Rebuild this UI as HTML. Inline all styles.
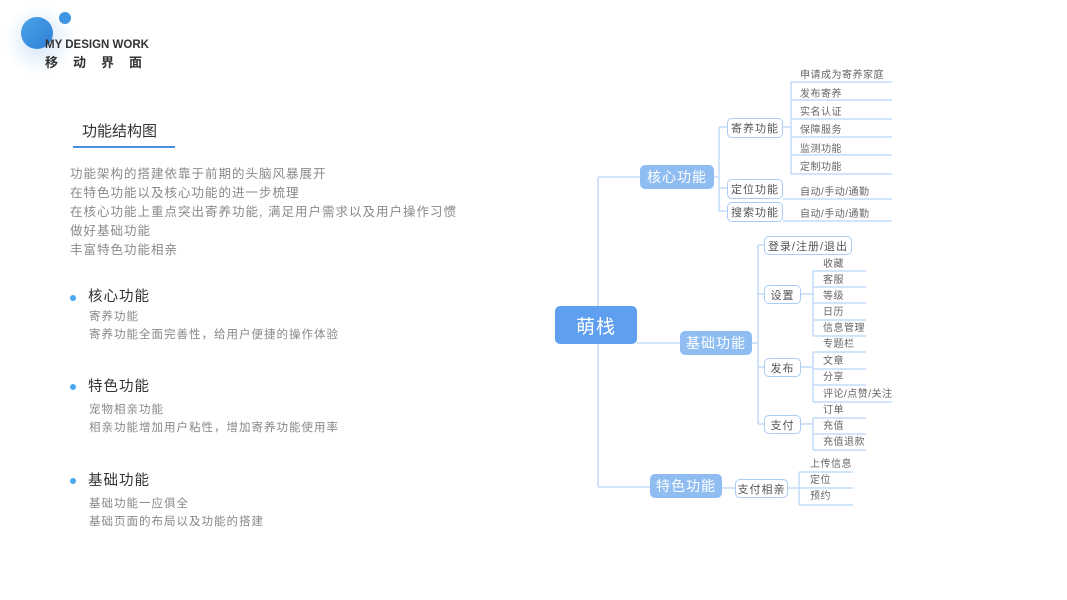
<!DOCTYPE html>
<html><head><meta charset="utf-8"><style>
body{margin:0;width:1067px;height:600px;background:#fff;position:relative;overflow:hidden;font-family:"Liberation Sans","Noto Sans CJK SC",sans-serif}
.a{position:absolute;white-space:nowrap;line-height:1}
.p{color:#8a8a8a;font-size:12.5px;letter-spacing:1px}
.h{color:#333;font-size:14.5px;letter-spacing:1px}
.s{color:#888;font-size:11.5px;letter-spacing:1px}
.leaf{position:absolute;font-size:10px;color:#666;line-height:1;white-space:nowrap;letter-spacing:.5px}
.ob{position:absolute;border:1.5px solid #a9cdf5;border-radius:5px;background:#fff;color:#555;font-size:11px;letter-spacing:1px;display:flex;align-items:center;justify-content:center;box-sizing:border-box}
.fb{position:absolute;background:#8fbdf2;border-radius:5px;color:#fff;font-size:14px;display:flex;align-items:center;justify-content:center;letter-spacing:1px}
</style></head><body>
<div style="position:absolute;left:5px;top:5px;width:70px;height:70px;border-radius:50%;background:radial-gradient(circle,rgba(80,150,230,.25),rgba(255,255,255,0) 70%)"></div>
<div style="position:absolute;left:21px;top:17px;width:32px;height:32px;border-radius:50%;background:linear-gradient(135deg,#4aa3e8,#2f7fd8)"></div>
<div style="position:absolute;left:59px;top:12px;width:12px;height:12px;border-radius:50%;background:#3d95e3"></div>
<div class="a" style="left:45px;top:40px;font-size:11.5px;font-weight:bold;color:#333">MY DESIGN WORK</div>
<div class="a" style="left:45px;top:56px;font-size:13px;font-weight:bold;color:#333;letter-spacing:15px">移动界面</div>

<div class="a" style="left:82px;top:124px;font-size:15px;color:#333">功能结构图</div>
<div style="position:absolute;left:73px;top:146px;width:102px;height:2px;background:#4a90e2"></div>
<div class="a p" style="left:70px;top:168px">功能架构的搭建依靠于前期的头脑风暴展开</div>
<div class="a p" style="left:70px;top:187px">在特色功能以及核心功能的进一步梳理</div>
<div class="a p" style="left:70px;top:206px">在核心功能上重点突出寄养功能, 满足用户需求以及用户操作习惯</div>
<div class="a p" style="left:70px;top:225px">做好基础功能</div>
<div class="a p" style="left:70px;top:244px">丰富特色功能相亲</div>

<div style="position:absolute;left:70px;top:295px;width:6px;height:6px;border-radius:50%;background:#4aa8f0"></div>
<div class="a h" style="left:88px;top:290px">核心功能</div>
<div class="a s" style="left:89px;top:312px">寄养功能</div>
<div class="a s" style="left:89px;top:330px">寄养功能全面完善性，给用户便捷的操作体验</div>
<div style="position:absolute;left:70px;top:384px;width:6px;height:6px;border-radius:50%;background:#4aa8f0"></div>
<div class="a h" style="left:88px;top:380px">特色功能</div>
<div class="a s" style="left:89px;top:405px">宠物相亲功能</div>
<div class="a s" style="left:89px;top:423px">相亲功能增加用户粘性，增加寄养功能使用率</div>
<div style="position:absolute;left:70px;top:478px;width:6px;height:6px;border-radius:50%;background:#4aa8f0"></div>
<div class="a h" style="left:88px;top:474px">基础功能</div>
<div class="a s" style="left:89px;top:499px">基础功能一应俱全</div>
<div class="a s" style="left:89px;top:517px">基础页面的布局以及功能的搭建</div>

<svg width="1067" height="600" style="position:absolute;left:0;top:0" fill="none" stroke="#c2dbf8" stroke-width="1.5">
<path d="M598 177V487M598 177H640M598 487H650M637 343H680"/>
<path d="M714 177H719M719 127V211M719 127H727M719 188H727M719 211H727"/>
<path d="M783 127H791M791 82V174M791 82H892M791 100H892M791 119H892M791 137H892M791 155H892M791 174H892"/>
<path d="M783 199H892M783 221H892"/>
<path d="M752 343H758M758 245V424M758 245H764M758 294H764M758 367H764M758 424H764"/>
<path d="M801 294H813M813 271V336M813 271H866M813 287H866M813 303H866M813 320H866M813 336H866"/>
<path d="M801 367H813M813 352V402M813 352H866M813 369H866M813 385H866M813 402H892"/>
<path d="M801 424H813M813 418V450M813 418H866M813 434H866M813 450H866"/>
<path d="M722 488H735M788 488H799M799 472V505M799 472H853M799 488H853M799 505H853"/>
</svg>

<div class="fb" style="left:555px;top:306px;width:82px;height:38px;background:#5f9ff0;font-size:19px">萌栈</div>
<div class="fb" style="left:640px;top:165px;width:74px;height:24px">核心功能</div>
<div class="fb" style="left:680px;top:331px;width:72px;height:24px">基础功能</div>
<div class="fb" style="left:650px;top:474px;width:72px;height:24px">特色功能</div>

<div class="ob" style="left:727px;top:118px;width:56px;height:20px">寄养功能</div>
<div class="ob" style="left:727px;top:179px;width:56px;height:20px">定位功能</div>
<div class="ob" style="left:727px;top:202px;width:56px;height:20px">搜索功能</div>
<div class="ob" style="left:764px;top:236px;width:88px;height:19px">登录/注册/退出</div>
<div class="ob" style="left:764px;top:285px;width:37px;height:19px">设置</div>
<div class="ob" style="left:764px;top:358px;width:37px;height:19px">发布</div>
<div class="ob" style="left:764px;top:415px;width:37px;height:19px">支付</div>
<div class="ob" style="left:735px;top:479px;width:53px;height:19px">支付相亲</div>

<div class="leaf" style="left:800px;top:71px">申请成为寄养家庭</div>
<div class="leaf" style="left:800px;top:90px">发布寄养</div>
<div class="leaf" style="left:800px;top:108px">实名认证</div>
<div class="leaf" style="left:800px;top:126px">保障服务</div>
<div class="leaf" style="left:800px;top:145px">监测功能</div>
<div class="leaf" style="left:800px;top:163px">定制功能</div>
<div class="leaf" style="left:800px;top:188px">自动/手动/通勤</div>
<div class="leaf" style="left:800px;top:210px">自动/手动/通勤</div>
<div class="leaf" style="left:823px;top:260px">收藏</div>
<div class="leaf" style="left:823px;top:276px">客服</div>
<div class="leaf" style="left:823px;top:292px">等级</div>
<div class="leaf" style="left:823px;top:308px">日历</div>
<div class="leaf" style="left:823px;top:324px">信息管理</div>
<div class="leaf" style="left:823px;top:340px">专题栏</div>
<div class="leaf" style="left:823px;top:357px">文章</div>
<div class="leaf" style="left:823px;top:373px">分享</div>
<div class="leaf" style="left:823px;top:390px">评论/点赞/关注</div>
<div class="leaf" style="left:823px;top:406px">订单</div>
<div class="leaf" style="left:823px;top:422px">充值</div>
<div class="leaf" style="left:823px;top:438px">充值退款</div>
<div class="leaf" style="left:810px;top:460px">上传信息</div>
<div class="leaf" style="left:810px;top:476px">定位</div>
<div class="leaf" style="left:810px;top:492px">预约</div>
</body></html>
